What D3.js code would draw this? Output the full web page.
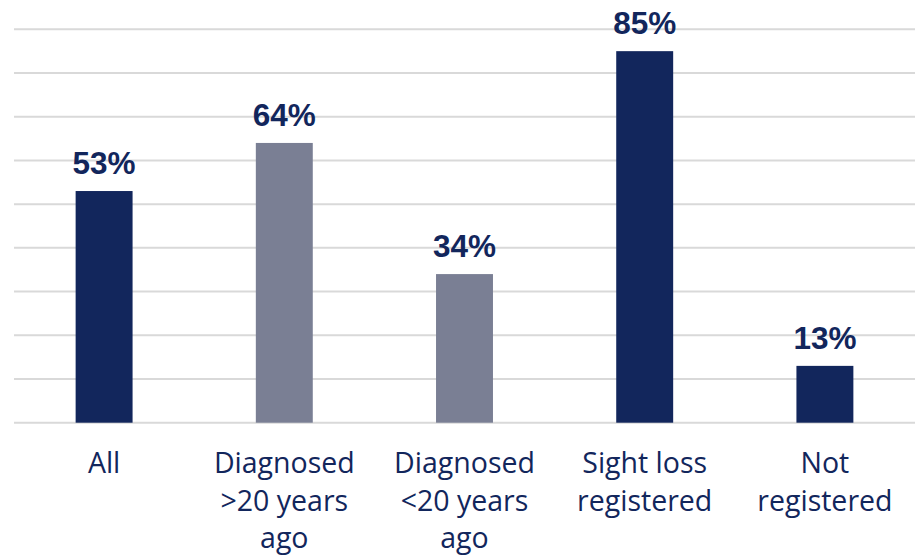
<!DOCTYPE html>
<html>
<head>
<meta charset="utf-8">
<script src="https://cdn.jsdelivr.net/npm/d3@7"></script>
<style>
  html, body { margin: 0; padding: 0; background: #ffffff; }
  svg { display: block; }
</style>
</head>
<body>
<svg id="chart" width="921" height="557"></svg>
<script>
const categories = [
  ["All"],
  ["Diagnosed", ">20 years", "ago"],
  ["Diagnosed", "<20 years", "ago"],
  ["Sight loss", "registered"],
  ["Not", "registered"]
];
const values = [53, 64, 34, 85, 13];
const barGroups = ["main", "sub", "sub", "main", "main"];
const gridTicks = [0, 10, 20, 30, 40, 50, 60, 70, 80, 90];

(function () {
const colors = { main: "#12265C", sub: "#7A7F94" };
const textColor = "#12265C";

const svg = d3.select("#chart");
const plotLeft = 14, plotRight = 915, plotTop = 29.3, plotBottom = 422.7;

const x = d3.scaleBand()
  .domain(d3.range(values.length))
  .range([plotLeft, plotRight])
  .paddingInner(0.684)
  .paddingOuter(0.342);

const y = d3.scaleLinear().domain([0, 90]).range([plotBottom, plotTop]);

// gridlines
svg.append("g")
  .selectAll("line")
  .data(gridTicks)
  .join("line")
  .attr("x1", plotLeft)
  .attr("x2", plotRight)
  .attr("y1", d => y(d))
  .attr("y2", d => y(d))
  .attr("stroke", "#D9D9D9")
  .attr("stroke-width", 2);

// bars
svg.append("g")
  .selectAll("rect")
  .data(values)
  .join("rect")
  .attr("x", (d, i) => x(i))
  .attr("width", x.bandwidth())
  .attr("y", d => y(d))
  .attr("height", d => y(0) - y(d))
  .attr("fill", (d, i) => colors[barGroups[i]]);

// value labels
svg.append("g")
  .selectAll("text")
  .data(values)
  .join("text")
  .attr("x", (d, i) => x(i) + x.bandwidth() / 2)
  .attr("y", d => y(d) - 17)
  .attr("text-anchor", "middle")
  .attr("font-family", "'Liberation Sans', Arial, sans-serif")
  .attr("font-weight", "bold")
  .attr("font-size", 31.5)
  .attr("fill", textColor)
  .text(d => d + "%");

// category labels
const cat = svg.append("g")
  .selectAll("text")
  .data(categories)
  .join("text")
  .attr("x", (d, i) => x(i) + x.bandwidth() / 2)
  .attr("y", 473)
  .attr("text-anchor", "middle")
  .attr("font-family", "'Open Sans', sans-serif")
  .attr("font-size", 28.5)
  .attr("fill", textColor);

cat.selectAll("tspan")
  .data(d => d)
  .join("tspan")
  .attr("x", function() { return d3.select(this.parentNode).attr("x"); })
  .attr("dy", (d, j) => j === 0 ? 0 : 37.5)
  .text(d => d);
})();
</script>
</body>
</html>
